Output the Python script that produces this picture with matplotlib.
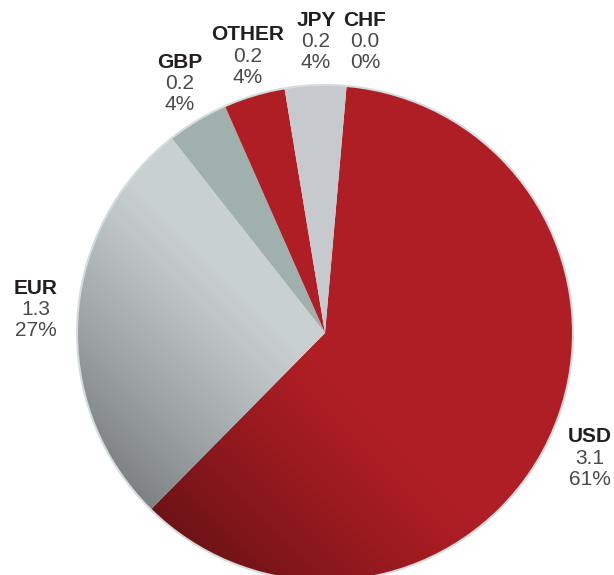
import numpy as np
import matplotlib.pyplot as plt
from matplotlib.patches import Circle

currencies = ["USD", "EUR", "GBP", "OTHER", "JPY", "CHF"]
amounts = [3.1, 1.3, 0.2, 0.2, 0.2, 0.0]
shares = [61, 27, 4, 4, 4, 0]
colors = ["#AF1E24", "#C9D0D2", "#A0B0AC", "#AF1E24", "#C6C9CD", "#C6C9CD"]

# label anchor (pixel coords, from top-left) for each currency
label_pos = {
    "USD": (590, 437),
    "EUR": (36, 288),
    "GBP": (180, 62),
    "OTHER": (248, 35),
    "JPY": (316, 20),
    "CHF": (365, 20),
}

W, H = 614, 575
cx, cy, r = 325, H - 333, 248

fig = plt.figure(figsize=(W / 100, H / 100), dpi=100)
ax = fig.add_axes([0, 0, 1, 1])

wedges, _ = ax.pie(shares, colors=colors, startangle=85, counterclock=False,
                   center=(cx, cy), radius=r, frame=True,
                   wedgeprops=dict(linewidth=0, antialiased=True))

# darkening toward the lower left
xx, yy = np.meshgrid(np.linspace(cx - r, cx + r, 400), np.linspace(cy - r, cy + r, 400))
t = ((cx - xx) + (cy - yy)) / np.sqrt(2) / r
alpha = np.clip((t - 0.1) / 0.9, 0, 1) ** 1.2 * 0.38
img = np.zeros((400, 400, 4))
img[..., 3] = alpha
clip = Circle((cx, cy), r, transform=ax.transData)
im = ax.imshow(img, extent=(cx - r, cx + r, cy - r, cy + r), origin="lower",
               interpolation="bilinear", zorder=3)
im.set_clip_path(clip)
ax.add_patch(Circle((cx, cy), r, fill=False, edgecolor="#D3DCDE", linewidth=1.5, zorder=4))

ax.set_xlim(0, W)
ax.set_ylim(0, H)
ax.set_aspect("equal")
ax.axis("off")

for name, amt, pct in zip(currencies, amounts, shares):
    x, y = label_pos[name]
    y = H - y
    ax.text(x, y, name, ha="center", va="center", fontsize=15, fontweight="bold",
            color="#231F20", family="Liberation Sans")
    ax.text(x, y - 21.5, f"{amt:.1f}", ha="center", va="center", fontsize=15,
            color="#4A4A4A", family="Liberation Sans")
    ax.text(x, y - 42.5, f"{pct}%", ha="center", va="center", fontsize=15,
            color="#4A4A4A", family="Liberation Sans")

fig.savefig("out.png", dpi=100)
